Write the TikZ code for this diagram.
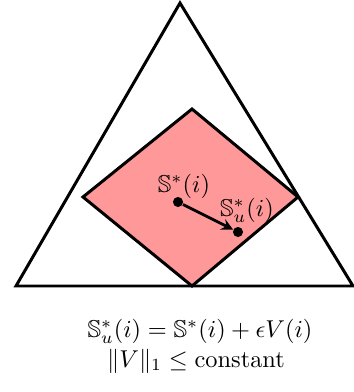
\documentclass[tikz,border=0pt]{standalone}
\usepackage{amssymb}
\begin{document}
\begin{tikzpicture}[>=stealth, x=0.435pt, y=-0.435pt,
  rand/.style={line width=1.3pt, line join=miter},
  tekst/.style={scale=1.06},
  punt/.style={circle, fill=black, inner sep=0pt, minimum size=4.4pt}]

  \useasboundingbox (0,0) rectangle (354,392);

  % simplex
  \coordinate (A) at (180,3);
  \coordinate (B) at (16,286);
  \coordinate (C) at (353,286);

  % ruit
  \coordinate (T) at (192,109);
  \coordinate (L) at (83,197);
  \coordinate (R) at (298,197);
  \coordinate (O) at (192,286);
  \filldraw[rand, fill=red!40] (T) -- (R) -- (O) -- (L) -- cycle;

  \draw[rand] (A) -- (C) -- (B) -- cycle;

  % punten
  \node[punt] (S) at (178,202) {};
  \node[punt] (Su) at (238,232) {};
  \node[tekst] (lS) at (184,186) {$\mathbb{S}^*(i)$};
  \node[tekst] (lSu) at (247,210) {$\mathbb{S}^*_u(i)$};

  \draw[->, very thick] (S) -- (Su);

  % vergelijkingen
  \node[tekst] (eq1) at (200,331) {$\mathbb{S}^*_u(i) = \mathbb{S}^*(i) + \epsilon V(i)$};
  \node[tekst] (eq2) at (196,361) {$\|V\|_1 \leq \mathrm{constant}$};

\end{tikzpicture}
\end{document}
